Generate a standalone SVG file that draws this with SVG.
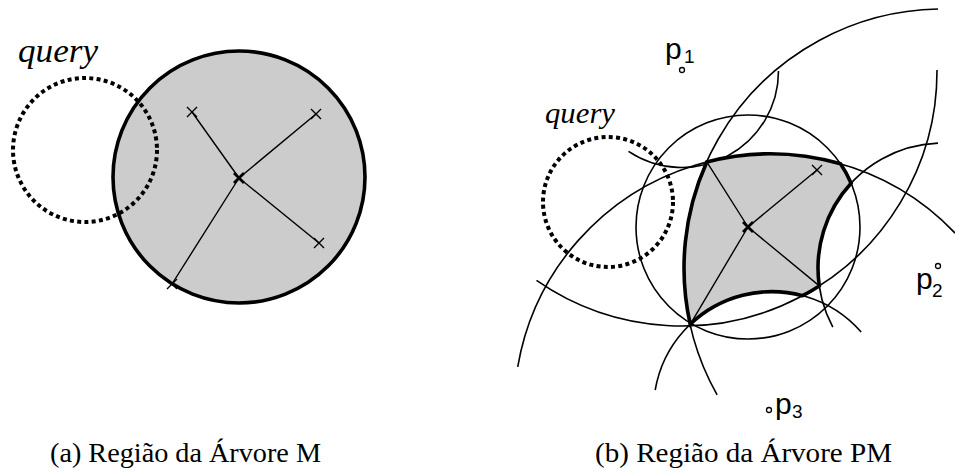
<svg xmlns="http://www.w3.org/2000/svg" width="955" height="474" viewBox="0 0 955 474">
<style>
.thin{fill:none;stroke:#000;stroke-width:1.6}
.thick{stroke:#000;stroke-width:3.6;fill:#cccccc}
.dot{fill:none;stroke:#000;stroke-width:4;stroke-dasharray:4 3.3}
.ln{stroke:#000;stroke-width:1.4;fill:none}
.cen{stroke:#000;stroke-width:2.8;fill:none}
.mk{fill:#fff;stroke:#000;stroke-width:1.3}
.q{font-family:"Liberation Serif",serif;font-style:italic}
.p{font-family:"Liberation Sans",Arial,sans-serif}
.cap{font-family:"Liberation Serif","DejaVu Serif",serif;font-size:28px}
</style>
<defs>
<path id="x" d="M-5,-5L5,5M-5,5L5,-5" class="ln"/>
<path id="xc" d="M-5,-5L5,5M-5,5L5,-5" class="cen"/>
</defs>

<!-- (a) M-tree region -->
<g id="mtree-region">
<circle cx="239" cy="177" r="126" class="thick"/>
</g>
<g id="mtree-query">
<circle cx="85" cy="150" r="72" class="dot"/>
<text x="18" y="62" class="q" font-size="33" textLength="80" lengthAdjust="spacingAndGlyphs">query</text>
</g>
<g id="mtree-connectors">
<path class="ln" d="M239,178L192,112M239,178L316,114M239,178L319,243M239,178L172,284"/>
<use href="#x" x="192" y="112"/>
<use href="#x" x="316" y="114"/>
<use href="#x" x="319" y="243"/>
<use href="#x" x="172" y="284"/>
<use href="#xc" x="239" y="178"/>
</g>

<!-- (b) PM-tree region -->
<g id="pm-arcs">
<circle cx="748" cy="227" r="112" class="thin"/>
<!-- p1 inner/outer -->
<path class="thin" d="M628.5,151.3A96.5 96.5 0 0 0 778.5,71"/>
<path class="thin" d="M536.5,280.4A255 255 0 0 0 937,70"/>
<!-- p2 outer/inner -->
<path class="thin" d="M938,9A259 259 0 0 0 717.1,394.8"/>
<path class="thin" d="M938,143.1A125 125 0 0 0 832.8,327.1"/>
<!-- p3 outer/inner -->
<path class="thin" d="M517.7,366.9A256 256 0 0 1 955.1,233.1"/>
<path class="thin" d="M655.2,390A118.5 118.5 0 0 1 861.2,332"/>
</g>
<g id="pm-region">
<path class="thick" d="M706.8,161.9A256 256 0 0 1 840.5,163.8A112 112 0 0 1 851.1,183.3A125 125 0 0 0 819.3,285.9A255 255 0 0 1 802.6,295.7A118.5 118.5 0 0 0 690.2,324.3A259 259 0 0 1 706.8,161.9Z"/>
</g>
<g id="pm-connectors">
<path class="ln" d="M748,227L706.8,161.9M748,227L817,170M748,227L819.3,285.9M748,227L690.2,324.3"/>
<use href="#x" x="817" y="170"/>
<use href="#xc" x="748" y="227"/>
</g>
<g id="pm-query">
<circle cx="608" cy="202" r="65" class="dot"/>
<text x="545" y="123" class="q" font-size="30" textLength="70" lengthAdjust="spacingAndGlyphs">query</text>
</g>
<g id="p1">
<circle cx="682" cy="70" r="2.5" class="mk"/>
<text x="665" y="58.5" class="p" font-size="30">p</text>
<text x="684" y="63" class="p" font-size="19">1</text>
</g>
<g id="p2">
<circle cx="938" cy="266" r="2.5" class="mk"/>
<text x="916" y="288.5" class="p" font-size="30">p</text>
<text x="932" y="297" class="p" font-size="19">2</text>
</g>
<g id="p3">
<circle cx="769" cy="410" r="2.5" class="mk"/>
<text x="775" y="414" class="p" font-size="30">p</text>
<text x="792" y="418" class="p" font-size="19">3</text>
</g>

<g id="captions">
<text x="50" y="462" class="cap" textLength="271" lengthAdjust="spacingAndGlyphs">(a) Região da Árvore M</text>
<text x="595" y="462" class="cap" textLength="297" lengthAdjust="spacingAndGlyphs">(b) Região da Árvore PM</text>
</g>
</svg>
